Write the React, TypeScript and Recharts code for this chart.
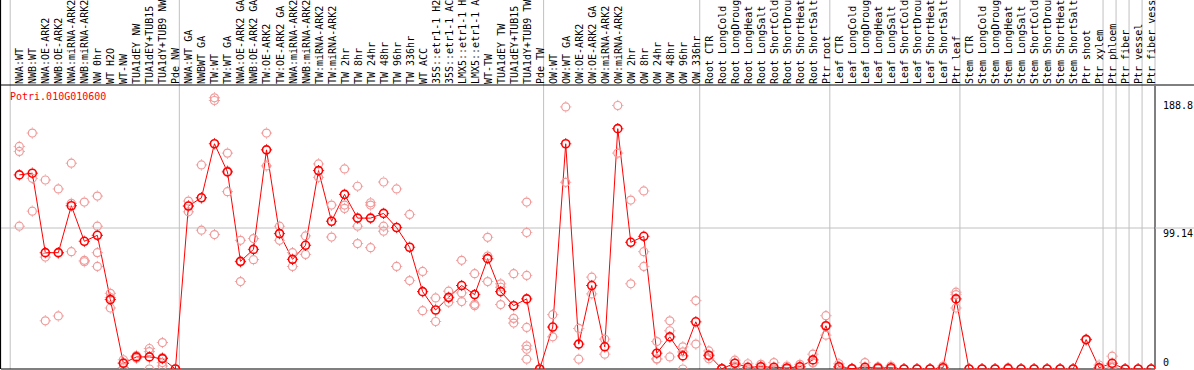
import React from 'react';
import { ComposedChart, Line, Scatter, XAxis, YAxis, ReferenceLine } from 'recharts';

const geneName = 'Potri.010G010600';

const categories: string[] = [
  'NWA:WT', 'NWB:WT', 'NWA:OE-ARK2', 'NWB:OE-ARK2', 'NWA:miRNA-ARK2', 'NWB:miRNA-ARK2', 'NW 0hr', 'WT H2O', 'WT-NW',
  'TUA1dEY NW', 'TUA1dEY+TUB15', 'TUA1dY+TUB9 NW', 'Pde NW',
  'NWA:WT GA', 'NWBWT GA', 'TW:WT', 'TW:WT GA', 'NWA:OE-ARK2 GA', 'NWB:OE-ARK2 GA', 'TW:OE-ARK2', 'TW:OE-ARK2 GA',
  'NWA:miRNA-ARK2', 'NWB:miRNA-ARK2', 'TW:miRNA-ARK2', 'TW:miRNA-ARK2', 'TW 2hr', 'TW 8hr', 'TW 24hr', 'TW 48hr',
  'TW 96hr', 'TW 336hr', 'WT ACC', '35S::etr1-1 H2', '35S::etr1-1 AC', 'LMX5::etr1-1 H', 'LMX5::etr1-1 A', 'WT-TW',
  'TUA1dEY TW', 'TUA1dEY+TUB15', 'TUA1dY+TUB9 TW', 'Pde TW',
  'OW:WT', 'OW:WT GA', 'OW:OE-ARK2', 'OW:OE-ARK2 GA', 'OW:miRNA-ARK2', 'OW:miRNA-ARK2', 'OW 2hr', 'OW 8hr', 'OW 24hr',
  'OW 48hr', 'OW 96hr', 'OW 336hr',
  'Root CTR', 'Root LongCold', 'Root LongDroug', 'Root LongHeat', 'Root LongSalt', 'Root ShortCold', 'Root ShortDrou',
  'Root ShortHeat', 'Root ShortSalt', 'Ptr root',
  'Leaf CTR', 'Leaf LongCold', 'Leaf LongDroug', 'Leaf LongHeat', 'Leaf LongSalt', 'Leaf ShortCold', 'Leaf ShortDrou',
  'Leaf ShortHeat', 'Leaf ShortSalt', 'Ptr leaf',
  'Stem CTR', 'Stem LongCold', 'Stem LongDroug', 'Stem LongHeat', 'Stem LongSalt', 'Stem ShortCold', 'Stem ShortDrou',
  'Stem ShortHeat', 'Stem ShortSalt', 'Ptr shoot', 'Ptr xylem',
  'Ptr phloem', 'Ptr fiber', 'Ptr vessel', 'Ptr fiber vess',
];

const means: number[] = [
  136.5, 137.7, 81.8, 81.8, 114.8, 89.8, 94.0, 48.8, 4.0, 8.5, 8.5, 7.3, 0,
  114.6, 120.4, 158.4, 138.6, 75.7, 84.1, 154.1, 95.2, 77.1, 87.0, 139.5, 103.9, 122.8, 106.1, 106.1, 109.4,
  99.5, 85.6, 54.4, 41.5, 50.4, 58.7, 52.3, 77.6, 54.4, 44.5, 49.3, 0,
  29.5, 158.4, 17.5, 58.7, 15.6, 169.0, 89.1, 93.3, 11.1, 22.6, 9.2, 33.2,
  9.7, 0.2, 4.0, 1.2, 1.6, 1.2, 0.7, 1.6, 6.4, 30.4,
  1.6, 0.2, 1.2, 0.7, 0.9, 0, 0, 0, 0.9, 49.3,
  0, 0, 0, 0.3, 0, 0, 0, 0, 0, 20.7, 0.9,
  4.0, 0, 0, 0,
];

const replicates: number[][] = [
  [156.5, 153.0, 100.4], [165.9, 134.1, 111.0], [132.9, 78.7, 33.9], [126.6, 81.5, 37.3], [144.7, 116.5, 82.5],
  [117.4, 76.4, 75.4], [121.6, 100.4, 81.8, 72.1], [53.2, 50.2, 42.9], [6.5, 4.5, 1.0], [9.5, 8.5, 7.5],
  [14.4, 12.2, 0], [18.6, 8.0, 4.5, 2.1], [0, 0, 0],
  [118.1, 114.6, 110.5], [143.5, 120.4, 97.6], [190.7, 188.8, 94.5], [151.8, 139.3, 124.7], [90.5, 75.2, 61.5],
  [91.7, 76.9], [165.9, 142.8], [100.4, 90.5], [81.8, 72.1], [93.6, 80.6], [144.2, 134.8], [115.3, 92.8],
  [140.7, 115.3, 112.9], [128.5, 100.4, 88.2], [116.9, 115.3, 85.3], [131.5, 100.4, 96.9], [126.6, 72.1],
  [108.7, 62.2], [68.6, 41.0], [50.0, 33.4], [54.7, 50.0, 46.9], [76.4, 53.5, 47.4], [67.0, 45.5, 44.5],
  [92.6, 79.4, 61.5], [59.9, 57.5, 45.3], [67.0, 35.6, 32.3], [117.4, 96.0, 65.8, 29.2, 16.3, 13.9, 6.9], [0, 0, 0],
  [38.2, 22.6], [184.3, 131.3], [28.5, 6.9], [64.6, 52.8], [21.0, 10.4], [185.3, 151.8], [118.8, 59.9],
  [125.2, 82.5, 72.1], [19.3, 7.2, 6.9], [33.9, 26.9, 8.5], [15.6, 12.0, 0], [48.1, 17.5],
  [12.7, 9.2, 7.2], [0.3, 0, 0.3], [6.2, 4.0, 1.8], [3.7, 0, 0], [3.3, 1.5, 0], [4.5, 0, 0], [2.1, 0, 0],
  [3.3, 1.5, 0], [10.4, 4.5, 4.3], [37.5, 29.9, 23.8],
  [3.7, 1.0, 0], [0.5, 0, 0], [4.5, 0, 0], [1.5, 0.5, 0], [2.1, 0.5, 0], [0, 0, 0], [0, 0, 0], [0, 0, 0],
  [2.1, 0.5, 0], [54.0, 52.3, 42.9],
  [0, 0, 0], [0, 0, 0], [0, 0, 0], [0.9, 0, 0], [0, 0, 0], [0, 0, 0], [0, 0, 0], [0, 0, 0], [0, 0, 0],
  [21.0, 20.7, 20.4], [2.8, 0, 0],
  [9.0, 2.1, 0.9], [0, 0, 0], [0, 0, 0], [0, 0, 0],
];

const yTicks: number[] = [0, 99.14, 188.8];
const groupStarts: number[] = [0, 13, 41, 53, 63, 73, 84, 85, 86, 87];

const FONT = "'DejaVu Sans Mono', monospace";
const RED = '#ff0000';
const PINK = '#f09a9a';
const GRID = '#c0c0c0';

const X_MIN = -1.4066;
const X_MAX = 87.294;
const Y_MAX = 199.0;
const Y_PAGE_TOP = 259.5; // value at pixel y = 0
const X_PAGE_LEFT = -1.445;
const X_PAGE_RIGHT = 90.29;
const Y_HEADER = 199.7;

const meanData = means.map((v, i) => ({ idx: i, v }));
const repData = replicates.flatMap((arr, i) => arr.map((v) => ({ idx: i, v })));
const tickIdx = categories.map((_, i) => i);

const Ring = ({ cx, cy, color, sw }: any) => {
  if (cx == null || cy == null) return null;
  return (
    <g>
      <circle cx={cx} cy={cy} r={4} fill="none" stroke={color} strokeWidth={sw} />
      <path
        d={`M${cx} ${cy - 5.6}v1M${cx} ${cy + 4.6}v1M${cx - 5.6} ${cy}h1M${cx + 4.6} ${cy}h1`}
        stroke={color}
        strokeWidth={1}
      />
    </g>
  );
};

const XTick = (props: any) => {
  const { x, y, payload } = props;
  const tx = x + 4;
  return (
    <text
      x={tx}
      y={y}
      transform={`rotate(-90 ${tx} ${y})`}
      textAnchor="start"
      fontFamily={FONT}
      fontSize={10}
      fill="#000"
    >
      {categories[payload.value]}
    </text>
  );
};

const YTick = (props: any) => {
  const { x, y, payload } = props;
  const v = payload.value;
  const by = v === 0 ? y - 3.5 : y + 8.5;
  return (
    <g>
      {v === 99.14 && <line x1={x - 8} x2={1194} y1={y} y2={y} stroke={GRID} strokeWidth={1} />}
      <text x={x} y={by} textAnchor="start" fontFamily={FONT} fontSize={10} fill="#000">
        {String(v)}
      </text>
    </g>
  );
};

export default function App() {
  return (
    <div style={{ position: 'absolute', left: 0, top: 0, width: 1194, height: 370, background: '#fff' }}>
      <ComposedChart
        width={1194}
        height={370}
        data={meanData}
        margin={{ top: 1, right: 0, bottom: 1, left: 1 }}
      >
        <XAxis
          xAxisId={0}
          orientation="top"
          type="number"
          dataKey="idx"
          domain={[X_MIN, X_MAX]}
          allowDataOverflow
          ticks={tickIdx}
          interval={0}
          height={85}
          axisLine={false}
          tickLine={false}
          tickSize={0}
          tickMargin={2}
          tick={XTick}
        />
        <YAxis
          yAxisId={0}
          orientation="right"
          type="number"
          domain={[0, Y_MAX]}
          allowDataOverflow
          ticks={yTicks}
          interval={0}
          width={39}
          axisLine={{ stroke: '#000', strokeWidth: 1 }}
          tickLine={false}
          tickSize={0}
          tickMargin={8}
          tick={YTick}
        />
        {groupStarts.map((k) => (
          <ReferenceLine
            key={`g${k}`}
            segment={[{ x: k - 0.7, y: 0 }, { x: k - 0.7, y: Y_PAGE_TOP }]}
            stroke={GRID}
            strokeWidth={1}
            ifOverflow="visible"
          />
        ))}
        <ReferenceLine
          segment={[{ x: X_MAX, y: Y_HEADER }, { x: X_MAX, y: Y_PAGE_TOP }]}
          stroke={GRID}
          strokeWidth={1}
          ifOverflow="visible"
        />
        <ReferenceLine y={99.14} stroke={GRID} strokeWidth={1} ifOverflow="visible" />
        <ReferenceLine
          segment={[{ x: X_PAGE_LEFT, y: Y_HEADER }, { x: X_PAGE_RIGHT, y: Y_HEADER }]}
          stroke="#000"
          strokeWidth={1}
          ifOverflow="visible"
        />
        <ReferenceLine
          segment={[{ x: X_PAGE_LEFT, y: 0 }, { x: X_PAGE_LEFT, y: Y_PAGE_TOP }]}
          stroke="#000"
          strokeWidth={1.2}
          ifOverflow="visible"
        />
        <ReferenceLine y={0} stroke="#000" strokeWidth={1.2} ifOverflow="visible" />
        <Scatter
          name="replicates"
          data={repData}
          dataKey="v"
          isAnimationActive={false}
          shape={(p: any) => <Ring cx={p.cx} cy={p.cy} color={PINK} sw={1.2} />}
        />
        <Line
          name={geneName}
          type="linear"
          dataKey="v"
          stroke={RED}
          strokeWidth={1}
          isAnimationActive={false}
          activeDot={false}
          dot={(p: any) => <Ring key={`m${p.index}`} cx={p.cx} cy={p.cy} color={RED} sw={1.6} />}
        />
      </ComposedChart>
      <div
        style={{
          position: 'absolute',
          left: 10,
          top: 91,
          fontFamily: FONT,
          fontSize: 10,
          lineHeight: '12px',
          color: RED,
          whiteSpace: 'nowrap',
        }}
      >
        {geneName}
      </div>
    </div>
  );
}
